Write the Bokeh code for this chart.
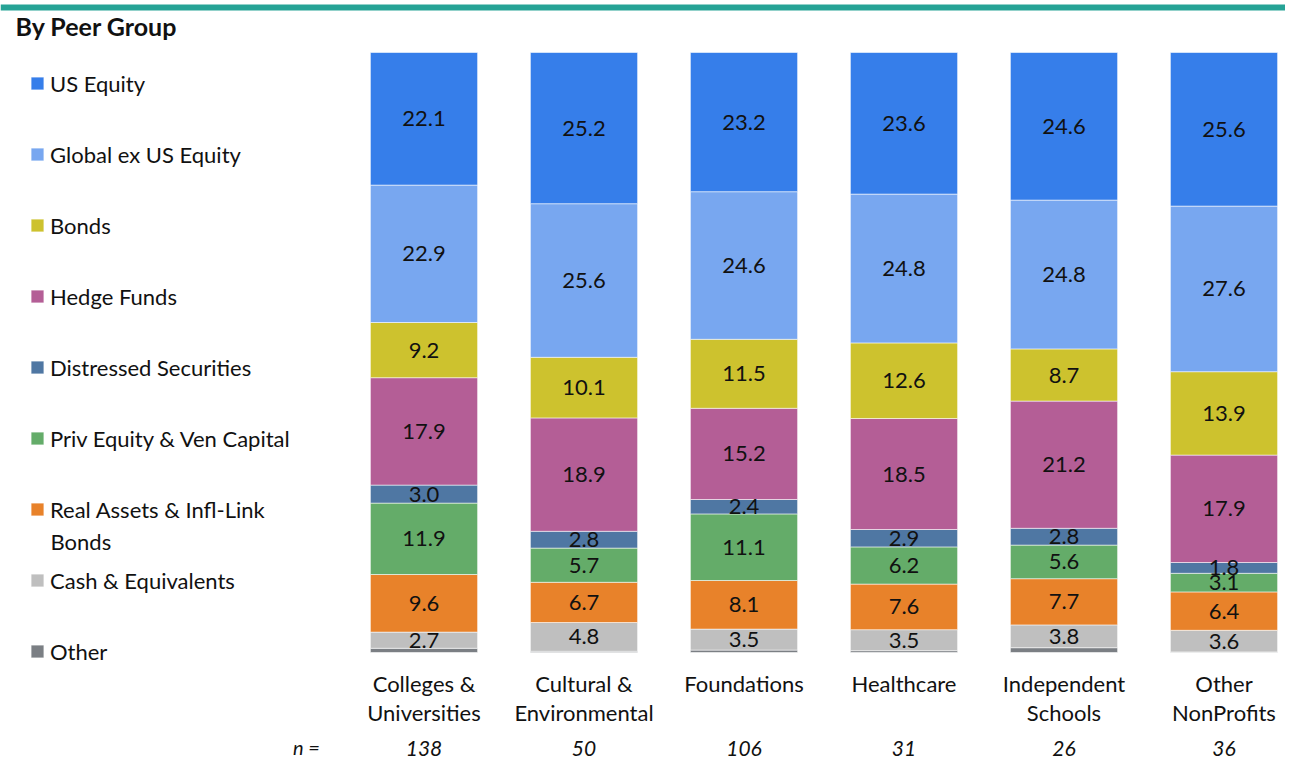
import numpy as np
from bokeh.plotting import figure
from bokeh.models import (ColumnDataSource, Range1d, Legend, LegendItem, Label,
                          BoxAnnotation)
from bokeh.core.properties import value
from bokeh.embed import file_html
from bokeh.resources import INLINE

# ---------------- data ----------------
groups = ["Colleges & Universities", "Cultural & Environmental", "Foundations",
          "Healthcare", "Independent Schools", "Other NonProfits"]
group_labels = ["Colleges &\nUniversities", "Cultural &\nEnvironmental", "Foundations",
                "Healthcare", "Independent\nSchools", "Other\nNonProfits"]
n_counts = ["138", "50", "106", "31", "26", "36"]

# stacking order bottom -> top
series = ["Other", "Cash & Equivalents", "Real Assets & Infl-Link Bonds",
          "Priv Equity & Ven Capital", "Distressed Securities", "Hedge Funds",
          "Bonds", "Global ex US Equity", "US Equity"]
other       = [0.7, 0.2, 0.4, 0.3, 0.8, 0.1]
cash        = [2.7, 4.8, 3.5, 3.5, 3.8, 3.6]
real_assets = [9.6, 6.7, 8.1, 7.6, 7.7, 6.4]
priv_equity = [11.9, 5.7, 11.1, 6.2, 5.6, 3.1]
distressed  = [3.0, 2.8, 2.4, 2.9, 2.8, 1.8]
hedge_funds = [17.9, 18.9, 15.2, 18.5, 21.2, 17.9]
bonds       = [9.2, 10.1, 11.5, 12.6, 8.7, 13.9]
global_ex   = [22.9, 25.6, 24.6, 24.8, 24.8, 27.6]
us_equity   = [22.1, 25.2, 23.2, 23.6, 24.6, 25.6]

colors = ["#7b7f84", "#bfbfbf", "#e8822a", "#64ac69", "#4f77a3", "#b45e96",
          "#cdc22e", "#78a7f0", "#367eea"]

values = [other, cash, real_assets, priv_equity, distressed, hedge_funds,
          bonds, global_ex, us_equity]
keys = ["s%d" % i for i in range(len(series))]

xpos = np.arange(len(groups), dtype=float)
data = {"x": xpos}
for k, v in zip(keys, values):
    data[k] = v
src = ColumnDataSource(data)

# ---------------- figure geometry ----------------
W, H = 1285, 762
PX_X = 160.0   # pixels per category
PX_Y = 6.0     # pixels per percent
x0_px = 423.5  # pixel of first bar center
y0_px = 652.0  # pixel of zero

def xd(px):
    return (px - x0_px) / PX_X

def yd(py):
    return (y0_px - py) / PX_Y

p = figure(width=W, height=H, output_backend="svg", toolbar_location=None,
           x_range=Range1d(xd(0), xd(W)), y_range=Range1d(yd(H), yd(0)),
           min_border=0)
p.axis.visible = False
p.grid.visible = False
p.outline_line_color = None
p.background_fill_color = "white"

FONT = "Lato"
TXT = "#111111"

renderers = p.vbar_stack(keys, x="x", width=0.67, source=src, color=colors,
                         line_color="white", line_alpha=0.55, line_width=1)

# segment labels
arr = np.array(values)
cum = np.cumsum(arr, axis=0)
mids = cum - arr / 2.0
lx, ly, lt = [], [], []
for i in range(1, len(series)):
    for j in range(len(groups)):
        lx.append(xpos[j]); ly.append(mids[i, j]); lt.append("%.1f" % arr[i, j])
p.text(x=lx, y=ly, text=lt, text_align="center", text_baseline="middle",
       text_font=value(FONT), text_font_size="22px", text_color=TXT)

# category labels
p.text(x=list(xpos), y=[yd(669)] * len(groups), text=group_labels,
       text_align="center", text_baseline="top", text_line_height=1.1,
       text_font=value(FONT), text_font_size="22px", text_color=TXT)

# n row
p.text(x=list(xpos), y=[yd(748)] * len(groups), text=n_counts,
       text_align="center", text_baseline="middle", text_font_style="italic",
       text_font=value(FONT), text_font_size="21px", text_color=TXT)
p.add_layout(Label(x=xd(306), y=yd(746), text="n =", text_align="center",
                   text_baseline="middle", text_font_style="italic",
                   text_font=FONT, text_font_size="20px", text_color=TXT))

# top rule and title
p.add_layout(BoxAnnotation(top=yd(4), bottom=yd(10), fill_color="#26a396",
                           fill_alpha=1.0, line_color=None))
p.add_layout(Label(x=xd(15), y=yd(25), text="By Peer Group", text_align="left",
                   text_baseline="middle", text_font_style="bold",
                   text_font=FONT, text_font_size="25px", text_color=TXT))

# legend (top -> bottom)
leg_labels = ["US Equity", "Global ex US Equity", "Bonds", "Hedge Funds",
              "Distressed Securities", "Priv Equity & Ven Capital",
              "Real Assets & Infl-Link", "Cash & Equivalents", "Other"]
items = []
for k, lab in enumerate(leg_labels):
    idx = len(series) - 1 - k
    items.append(LegendItem(label=lab, renderers=[renderers[idx]]))
legend = Legend(items=items, location=(29, 96), orientation="vertical",
                padding=0, margin=0, spacing=41, glyph_width=16, glyph_height=16,
                label_height=30, label_standoff=5, label_text_font=FONT,
                label_text_font_size="22px", label_text_color=TXT,
                border_line_color=None, background_fill_alpha=0)
p.add_layout(legend)
p.add_layout(Label(x=xd(50), y=yd(541), text="Bonds", text_align="left",
                   text_baseline="middle", text_font=FONT, text_font_size="22px",
                   text_color=TXT))

open("out.html", "w").write(file_html(p, INLINE))
